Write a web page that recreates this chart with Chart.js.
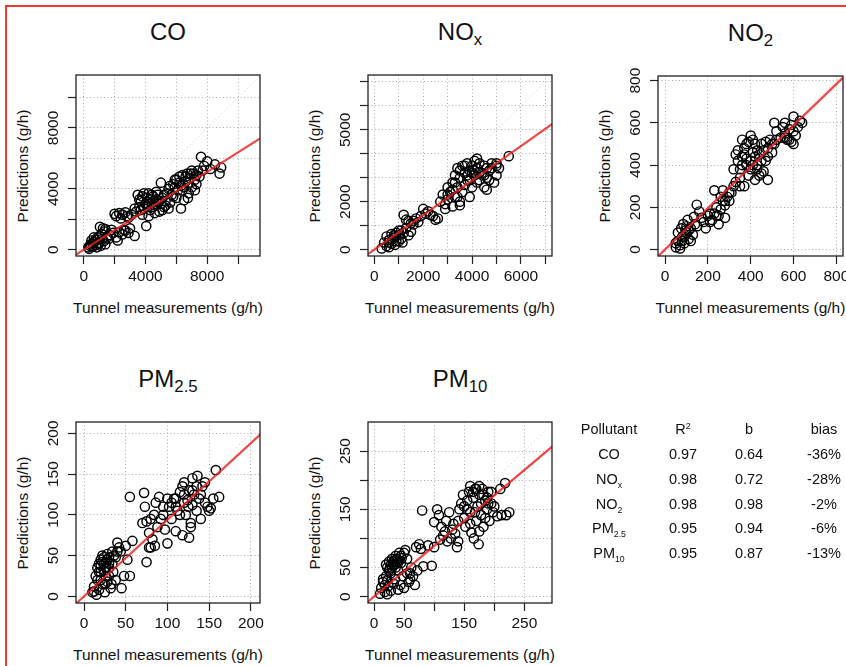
<!DOCTYPE html>
<html><head><meta charset="utf-8">
<script src="https://cdn.jsdelivr.net/npm/chart.js@4.4.0/dist/chart.umd.min.js"></script>
<style>
html,body{margin:0;padding:0;background:#fff;overflow:hidden;width:846px;height:666px;}
body{position:relative;font-family:"Liberation Sans",Arial,Helvetica,sans-serif;color:#111;}
#frame{position:absolute;left:5px;top:5px;width:900px;height:700px;border-left:2px solid #f03a3a;border-top:2px solid #f03a3a;}
canvas{position:absolute;}
.ttl{position:absolute;font-size:24px;transform:translate(-50%,-50%);white-space:nowrap;}
.ttl sub{font-size:0.7em;vertical-align:-0.32em;line-height:0;}
.xt{position:absolute;font-size:15.5px;transform:translate(-50%,-50%);white-space:nowrap;}
.yt{position:absolute;font-size:15.5px;transform:translate(-50%,-50%) rotate(-90deg);white-space:nowrap;}
.cell{position:absolute;font-size:14.5px;transform:translate(-50%,-50%);white-space:nowrap;}
.cell sub{font-size:0.6em;vertical-align:-0.45em;line-height:0;}
.cell sup{font-size:0.62em;vertical-align:0.55em;line-height:0;}
</style></head><body>
<div id="frame"></div>
<div id="root"></div>
<script>
// ---- categories ----
const pollutantBase = ['CO','NO','NO','PM','PM'];
const pollutantSub  = ['','x','2','2.5','10'];
const r2Values   = ['0.97','0.98','0.98','0.95','0.95'];
const slopeB     = [0.64, 0.72, 0.98, 0.94, 0.87];
const biasValues = ['-36%','-28%','-2%','-6%','-13%'];
const tableHeader = ['Pollutant','R','b','bias'];
const xAxisTitle = 'Tunnel measurements (g/h)';
const yAxisTitle = 'Predictions (g/h)';

// ---- tick values and labels ----
const coTicks = [0,2000,4000,6000,8000,10000];
const coTickLabels = ['0','','4000','','8000',''];
const noxTicks = [0,1000,2000,3000,4000,5000,6000,7000];
const noxXTickLabels = ['0','','2000','','4000','','6000',''];
const noxYTickLabels = ['0','','2000','','','5000','',''];
const no2Ticks = [0,200,400,600,800];
const no2TickLabels = ['0','200','400','600','800'];
const pm25Ticks = [0,50,100,150,200];
const pm25TickLabels = ['0','50','100','150','200'];
const pm10Ticks = [0,50,100,150,200,250];
const pm10TickLabels = ['0','50','','150','','250'];

// ---- series values (tunnel measurement, prediction) ----
const coTunnel = [300,450,600,700,800,900,1000,1100,1200,1300,500,650,850,1050,1150,1400,1500,350,750,950,1050,1250,1400,1350,1700,1900,2100,2300,2500,2700,2900,3000,3300,2600,2200,1800,2100,2300,2500,2700,2400,2800,2000,
 3400,3600,3700,3800,3900,4000,4100,4200,4300,4400,4500,4600,4700,4800,4900,5000,5100,5200,5300,5400,5500,5600,3500,3800,4200,4600,4050,5000,4700,5800,
 5500,5800,6000,6100,6200,6300,6400,6500,6600,6700,6800,6900,6300,7000,7100,7200,7300,7400,7500,7600,7800,8000,8200,8500,8800,8900,6800,7200,6000,5700,6500,6750,5900,
 3600,3900,4100,4300,4400,4500,4800,5200,5300,5100,3300,3100,1200,900,1600,600,400,5900,6200,6600,7000,7300,6400,5600,4900,4200,3700,2900,6900,7700];
const coPred = [150,350,200,500,300,650,450,250,700,550,600,800,150,900,1050,350,800,50,650,350,1500,1400,1350,1200,950,1100,800,1150,1000,1250,1100,1400,900,1300,600,1300,2200,2400,2300,2450,2050,2200,2350,
 2500,2800,3200,3500,2700,3000,3400,3700,2600,3100,3500,2900,3300,3600,2500,3000,3400,2800,3200,3700,2700,3100,3600,2300,2200,2400,1550,4400,3800,3500,
 4000,4300,4600,3900,4800,4200,4900,3250,4500,5000,4400,4700,2700,4100,5000,4600,4300,5200,4800,6100,5500,5800,5300,5600,5000,5400,3700,3900,3400,3600,4100,3400,4600,
 3300,3700,2900,3300,3600,2800,3100,3600,2900,2600,2700,2300,1000,800,700,400,250,4100,4400,4800,5200,4900,3900,4200,3200,3000,2600,2100,5000,5200];

const noxTunnel = [300,400,500,600,700,800,900,1000,1100,1200,700,500,850,1000,1300,1400,1500,600,1150,
 1200,1300,1500,1700,1800,2000,2100,2300,2500,2600,1900,2200,1600,1400,
 2800,2900,3000,3000,3100,3200,3200,3300,3300,3400,3400,3500,3500,3600,3600,3700,3700,3800,3800,3900,4000,4000,4100,4100,4200,4300,4300,4400,4500,4600,4600,4700,4800,4900,5000,5000,4500,3500,3900,2700,4200,2900,
 5100,5000,5500,4800,
 3300,3500,3700,3900,4100,4300,4500,3200,3000,3400,3800,4000,4200,4600,4700,800,900,1100,600,1000,2400,1600];
const noxPred = [50,300,150,400,250,500,350,600,450,700,650,550,200,800,900,600,750,100,300,
 1450,1250,1100,1300,1150,1700,1500,1450,1250,1300,1400,1600,1050,1200,
 2300,1900,2100,2600,2400,2800,1800,3100,2200,2600,3400,3000,2000,3500,2400,3200,2700,3600,2900,3300,3500,2600,3700,3100,3400,3600,2900,3200,3500,3000,2500,3300,3400,2800,3100,3500,2600,1850,2200,2000,3800,1700,
 3400,3600,3900,3600,
 2800,3300,3500,2900,3300,3200,3100,2500,2300,2200,3100,3200,2800,3400,2900,600,700,800,300,350,1400,1200];

const no2Tunnel = [50,60,70,80,90,100,110,60,75,85,95,105,120,130,140,150,120,70,50,100,148,160,170,180,190,200,210,135,
 220,230,240,250,260,270,280,290,230,270,300,310,250,280,320,260,
 320,330,340,350,360,370,380,390,400,410,420,330,350,370,390,400,420,430,440,450,460,470,480,490,500,510,460,480,440,400,360,380,420,470,350,
 510,520,540,550,560,570,580,590,600,610,620,600,630,640,590,520,560,
 370,380,410,430,450,360,340,480,500,430,410,300,280,240,210,90,80,110,560,580,600,450];
const no2Pred = [10,40,20,60,30,80,50,80,100,120,90,140,100,70,120,110,40,5,30,110,212,180,150,130,100,160,130,155,
 140,170,200,160,190,230,210,250,280,280,230,270,120,150,300,250,
 380,450,470,380,520,480,430,510,540,460,500,320,340,300,350,380,330,400,350,420,470,510,440,520,460,500,370,330,450,420,400,400,440,420,300,
 600,560,530,580,550,520,570,510,500,540,580,630,610,600,590,520,600,
 450,500,520,470,500,440,420,480,500,380,400,270,230,160,170,60,40,90,530,520,560,360];

const pm25Tunnel = [10,12,15,16,18,20,22,24,25,26,28,30,32,34,36,38,40,42,18,20,22,26,30,14,24,28,35,33,45,48,52,55,58,50,44,20,27,
 55,72,73,75,78,80,82,84,86,88,90,92,95,97,100,100,75,80,85,70,78,
 102,105,108,110,112,115,118,120,122,124,126,126,128,130,130,132,135,136,138,140,142,145,148,150,152,155,158,162,128,118,110,145,
 18,22,24,26,30,16,28,34,38,40,20,12,30,25,110,115,120,125,130,135,140,120,105,95];
const pm25Pred = [5,12,2,20,8,30,15,40,5,25,45,35,10,40,50,20,55,60,40,45,50,42,48,25,32,18,30,15,10,25,45,25,68,62,55,38,36,
 122,127,110,92,78,60,70,100,115,85,122,95,110,82,65,120,42,95,62,90,60,
 110,95,120,80,105,128,75,140,100,118,130,72,90,145,112,125,105,148,120,95,135,115,110,105,108,120,155,122,85,135,110,140,
 30,42,48,35,40,35,52,55,48,66,20,6,25,15,120,100,125,110,130,135,125,115,115,100];

const pm10Tunnel = [10,12,15,18,20,22,24,25,28,30,32,35,36,38,40,42,44,45,48,50,52,55,58,60,62,65,70,72,75,78,28,33,40,20,26,34,46,15,22,68,82,96,
 80,100,105,108,110,112,115,118,120,122,125,128,130,132,135,138,140,142,100,90,
 145,148,150,152,155,158,160,162,165,166,168,170,172,174,175,178,180,182,185,188,190,192,195,198,200,205,210,212,218,220,225,160,175,185,195,
 30,32,35,38,40,42,28,36,25,45,50,55,60,18,22,165,170,175,178,182,188,155,160,168,150,140,190];
const pm10Pred = [5,15,25,8,35,50,18,60,40,65,55,30,70,60,45,75,20,58,35,15,80,40,25,30,50,35,85,45,90,82,10,22,12,55,48,62,66,30,4,20,52,53,
 148,128,150,140,98,120,105,112,130,95,145,100,115,125,108,85,95,150,85,88,
 160,175,135,120,165,180,145,110,170,100,185,130,155,90,175,140,185,120,165,150,180,130,160,145,155,138,185,140,195,140,145,190,112,135,180,
 50,60,55,65,58,62,55,50,45,70,75,65,40,20,28,180,185,190,160,175,170,150,125,145,155,130,160];

// ---- layout (positions / styles, not data) ----
const FONT = '"Liberation Sans", Arial, Helvetica, sans-serif';
const panels = [
  {box:[76,75,260,256],  xr:[-500,11420], yr:[-420,11480], xt:coTicks,   xl:coTickLabels,   yt:coTicks,   yl:coTickLabels,   xs:coTunnel,   ys:coPred},
  {box:[368,75,552,256], xr:[-260,7270],  yr:[-265,7285],  xt:noxTicks,  xl:noxXTickLabels, yt:noxTicks,  yl:noxYTickLabels, xs:noxTunnel,  ys:noxPred},
  {box:[658,76,843,256], xr:[-33,831],    yr:[-31,822],    xt:no2Ticks,  xl:no2TickLabels,  yt:no2Ticks,  yl:no2TickLabels,  xs:no2Tunnel,  ys:no2Pred},
  {box:[76,422,260,603], xr:[-9.6,211],   yr:[-8.2,214],   xt:pm25Ticks, xl:pm25TickLabels, yt:pm25Ticks, yl:pm25TickLabels, xs:pm25Tunnel, ys:pm25Pred},
  {box:[368,422,552,603],xr:[-10,296],    yr:[-11,300],    xt:pm10Ticks, xl:pm10TickLabels, yt:pm10Ticks, yl:pm10TickLabels, xs:pm10Tunnel, ys:pm10Pred}
];

const root = document.getElementById('root');
function addDiv(cls, html, x, y) {
  const d = document.createElement('div');
  d.className = cls; d.innerHTML = html;
  d.style.left = x + 'px'; d.style.top = y + 'px';
  root.appendChild(d);
  return d;
}
function chemName(i) {
  return pollutantBase[i] + (pollutantSub[i] ? '<sub>' + pollutantSub[i] + '</sub>' : '');
}

const boxPlugin = {
  id: 'rbox',
  afterDatasetsDraw(chart) {
    const {ctx, chartArea: a} = chart;
    ctx.save();
    ctx.strokeStyle = '#222'; ctx.lineWidth = 1.3;
    ctx.strokeRect(a.left, a.top, a.right - a.left, a.bottom - a.top);
    ctx.restore();
  }
};
const yLabelPlugin = {
  id: 'ylab',
  afterDraw(chart, args, opts) {
    const s = chart.scales.y, ctx = chart.ctx;
    ctx.save();
    ctx.fillStyle = '#111';
    ctx.font = '15.5px ' + FONT;
    ctx.textAlign = 'center'; ctx.textBaseline = 'middle';
    s.ticks.forEach((t, i) => {
      const lab = opts.labels[i];
      if (!lab) return;
      const y = s.getPixelForValue(t.value);
      ctx.save();
      ctx.translate(chart.chartArea.left - 23, y);
      ctx.rotate(-Math.PI / 2);
      ctx.fillText(lab, 0, 1);
      ctx.restore();
    });
    ctx.restore();
  }
};

panels.forEach((p, i) => {
  const [L, T, R, B] = p.box;
  const padL = 40, padT = 10, padR = 30, padB = 36;
  const W = (R - L) + padL + padR, H = (B - T) + padT + padB;
  const cv = document.createElement('canvas');
  cv.width = W; cv.height = H;
  cv.style.left = (L - padL) + 'px'; cv.style.top = (T - padT) + 'px';
  cv.style.width = W + 'px'; cv.style.height = H + 'px';
  root.appendChild(cv);

  const pts = p.xs.map((x, k) => ({x: x, y: p.ys[k]}));
  const b = slopeB[i];
  const lo = Math.min(p.xr[0], p.yr[0]), hi = Math.max(p.xr[1], p.yr[1]);

  new Chart(cv, {
    type: 'scatter',
    data: {datasets: [
      {type: 'line', data: [{x: lo, y: lo}, {x: hi, y: hi}], borderColor: '#c4c4c4', borderWidth: 1, borderDash: [1, 3], pointRadius: 0, order: 4},
      {data: pts, pointRadius: 4.6, pointBorderColor: '#000', pointBackgroundColor: 'rgba(0,0,0,0)', pointBorderWidth: 1.45, order: 3},
      {type: 'line', data: [{x: lo, y: b * lo}, {x: hi, y: b * hi}], borderColor: 'rgba(238,30,30,0.82)', borderWidth: 2.2, pointRadius: 0, order: 1}
    ]},
    options: {
      responsive: false, animation: false, devicePixelRatio: 1,
      events: [],
      layout: {padding: {left: 0, top: padT, right: padR, bottom: 0}},
      plugins: {legend: {display: false}, tooltip: {enabled: false}, ylab: {labels: p.yl}},
      scales: {
        x: {
          type: 'linear', position: 'bottom', min: p.xr[0], max: p.xr[1],
          afterBuildTicks: s => { s.ticks = p.xt.map(v => ({value: v})); },
          afterFit: s => { s.height = padB; s.paddingLeft = 0; s.paddingRight = 0; },
          ticks: {autoSkip: false, maxRotation: 0, minRotation: 0, padding: 3, color: '#111',
                  font: {family: FONT, size: 15.5}, callback: (v, k) => p.xl[k]},
          grid: {color: '#acacac', lineWidth: 1, tickColor: '#222', tickLength: 8, tickWidth: 1.2},
          border: {display: false, dash: [1, 2.5]}
        },
        y: {
          type: 'linear', position: 'left', min: p.yr[0], max: p.yr[1],
          afterBuildTicks: s => { s.ticks = p.yt.map(v => ({value: v})); },
          afterFit: s => { s.width = padL; s.paddingTop = 0; s.paddingBottom = 0; },
          ticks: {display: false},
          grid: {color: '#acacac', lineWidth: 1, tickColor: '#222', tickLength: 8, tickWidth: 1.2},
          border: {display: false, dash: [1, 2.5]}
        }
      }
    },
    plugins: [boxPlugin, yLabelPlugin]
  });

  const cx = (L + R) / 2, cy = (T + B) / 2;
  addDiv('ttl', chemName(i), cx, T - 43);
  addDiv('xt', xAxisTitle, cx, B + 52);
  addDiv('yt', yAxisTitle, L - 53, cy);
});

// ---- summary table ----
const colX = [609, 683, 749, 824];
const rowY = [429, 453.5, 478.5, 503.5, 528, 552.5];
addDiv('cell', tableHeader[0], colX[0], rowY[0]);
addDiv('cell', tableHeader[1] + '<sup>2</sup>', colX[1], rowY[0]);
addDiv('cell', tableHeader[2], colX[2], rowY[0]);
addDiv('cell', tableHeader[3], colX[3], rowY[0]);
pollutantBase.forEach((nm, i) => {
  addDiv('cell', chemName(i), colX[0], rowY[i + 1]);
  addDiv('cell', r2Values[i], colX[1], rowY[i + 1]);
  addDiv('cell', slopeB[i].toFixed(2), colX[2], rowY[i + 1]);
  addDiv('cell', biasValues[i], colX[3], rowY[i + 1]);
});
</script>
</body></html>
